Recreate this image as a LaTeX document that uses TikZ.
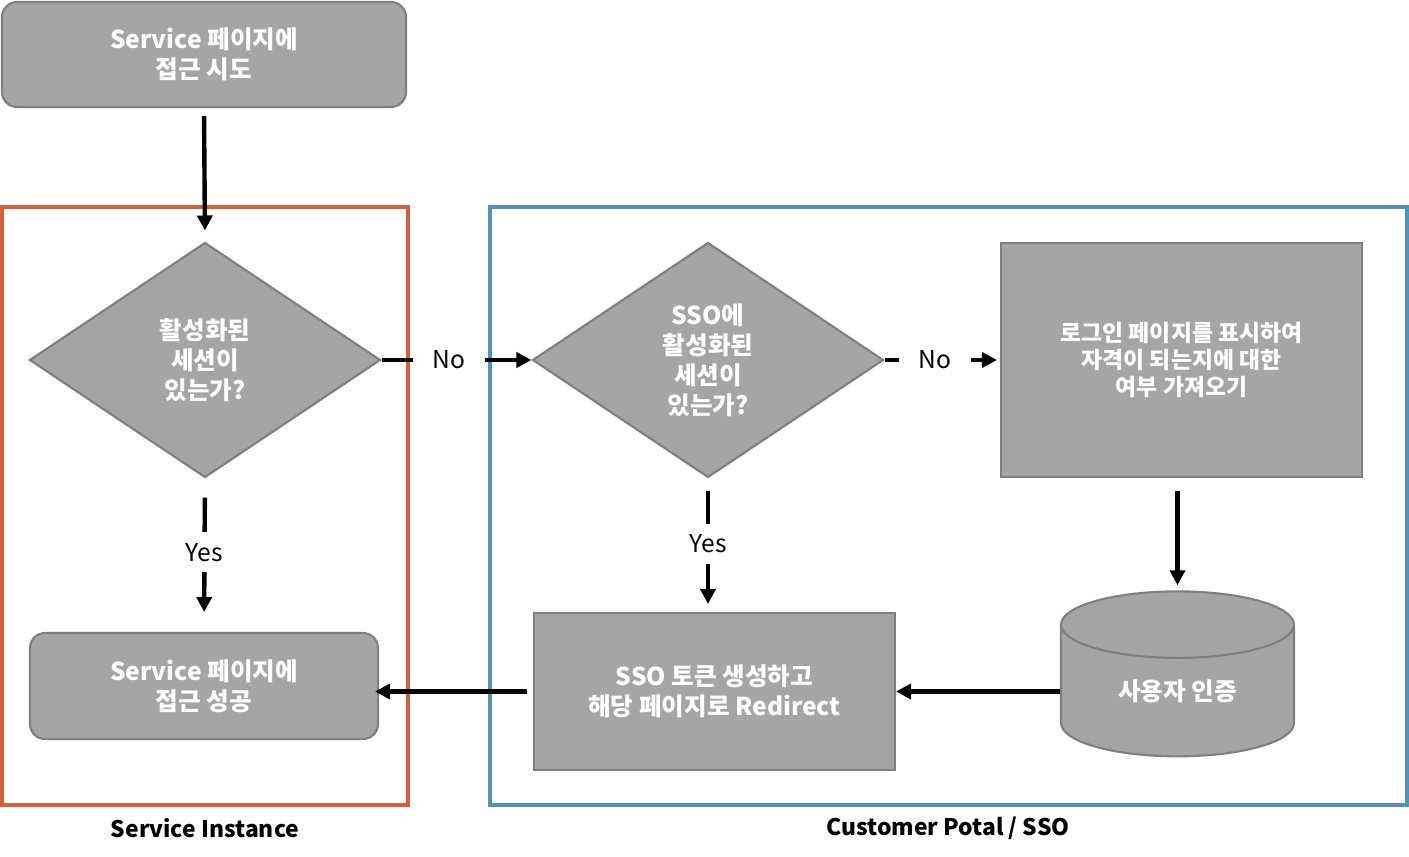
\documentclass[tikz,border=0pt]{standalone}
\usepackage{fontspec}
\setmainfont{Noto Sans CJK KR}
\usetikzlibrary{arrows.meta,shapes.geometric,positioning}

\definecolor{boxgray}{HTML}{A5A5A5}
\definecolor{boxline}{HTML}{7F7F7F}
\definecolor{siorange}{HTML}{D65F3A}
\definecolor{ssoblue}{HTML}{4F94B8}

\begin{document}
\begin{tikzpicture}[
    x=0.02cm, y=-0.02cm,
    every node/.style={align=center},
    proc/.style={rectangle, draw=boxline, line width=1.2pt, fill=boxgray, text=white,
                 font=\bfseries\fontsize{14}{17}\selectfont, inner sep=2pt},
    rproc/.style={proc, rounded corners=0.3cm},
    decide/.style={diamond, draw=boxline, line width=1.2pt, fill=boxgray, text=white,
                   font=\bfseries\fontsize{14}{17}\selectfont, inner sep=0pt,
                   minimum width=7.02cm, minimum height=4.7cm},
    store/.style={cylinder, shape border rotate=90, shape aspect=0.56, draw=boxline,
                  line width=1.2pt, fill=boxgray, text=white,
                  font=\bfseries\fontsize{14}{17}\selectfont, inner sep=0pt,
                  minimum width=4.66cm, minimum height=3.3cm},
    frame/.style={rectangle, line width=2.3pt, inner sep=0pt},
    caption/.style={font=\bfseries\fontsize{13}{15}\selectfont},
    lbl/.style={fill=white, inner sep=0pt, minimum width=1.44cm, minimum height=0.8cm,
                font=\fontsize{14}{17}\selectfont},
    arr/.style={-{Triangle[length=0.3cm, width=0.3cm]}, line width=2.5pt},
]
    \useasboundingbox (0,0) rectangle (1409,856);

    % groups
    \node[frame, draw=siorange, minimum width=8.12cm, minimum height=11.96cm] (si) at (205,506) {};
    \node[frame, draw=ssoblue, minimum width=18.34cm, minimum height=11.96cm] (sso) at (948.5,506) {};
    \node[caption] (sicap) at (205,828) {Service Instance};
    \node[caption] (ssocap) at (948,828) {Customer Potal / SSO};

    % steps
    \node[rproc, minimum width=8.08cm, minimum height=2.1cm] (try) at (204,54.5) {Service 페이지에\\ 접근 시도};
    \node[decide] (sess) at (205,360) {활성화된\\ 세션이\\ 있는가?};
    \node[decide] (ssosess) at (708,360) {SSO에\\ 활성화된\\ 세션이\\ 있는가?};
    \node[proc, minimum width=7.22cm, minimum height=4.68cm,
          font=\bfseries\fontsize{13}{15.5}\selectfont] (login) at (1181.5,360) {로그인 페이지를 표시하여\\ 자격이 되는지에 대한\\ 여부 가져오기};
    \node[store] (auth) at (1177.5,691) {사용자 인증};
    \node[proc, minimum width=7.22cm, minimum height=3.14cm] (token) at (714.5,691.5) {SSO 토큰 생성하고\\ 해당 페이지로 Redirect};
    \node[rproc, minimum width=6.96cm, minimum height=2.12cm] (ok) at (204,686) {Service 페이지에\\ 접근 성공};

    % flow
    \draw[arr, shorten <=0.16cm, shorten >=0.22cm] (try.south) -- (sess.north);
    \draw[arr] (sess.east) -- node[lbl, pos=0.45] {No} (ssosess.west);
    \draw[arr, shorten >=0.06cm] (ssosess.east) -- node[lbl, pos=0.44] {No} (login.west);
    \draw[arr, shorten <=0.26cm, shorten >=0.1cm] (auth.north |- login.south) -- (auth.north);
    \draw[arr] (auth.west |- token.east) -- (token.east);
    \draw[arr, shorten <=0.12cm, shorten >=-0.08cm] (token.west) -- (token.west -| ok.east);
    \draw[arr, shorten <=0.24cm, shorten >=0.16cm] (ssosess.south) -- node[lbl, pos=0.49] {Yes} (ssosess.south |- token.north);
    \draw[arr, shorten <=0.38cm, shorten >=0.4cm] (sess.south) -- node[lbl, pos=0.48] {Yes} (ok.north);
\end{tikzpicture}
\end{document}
